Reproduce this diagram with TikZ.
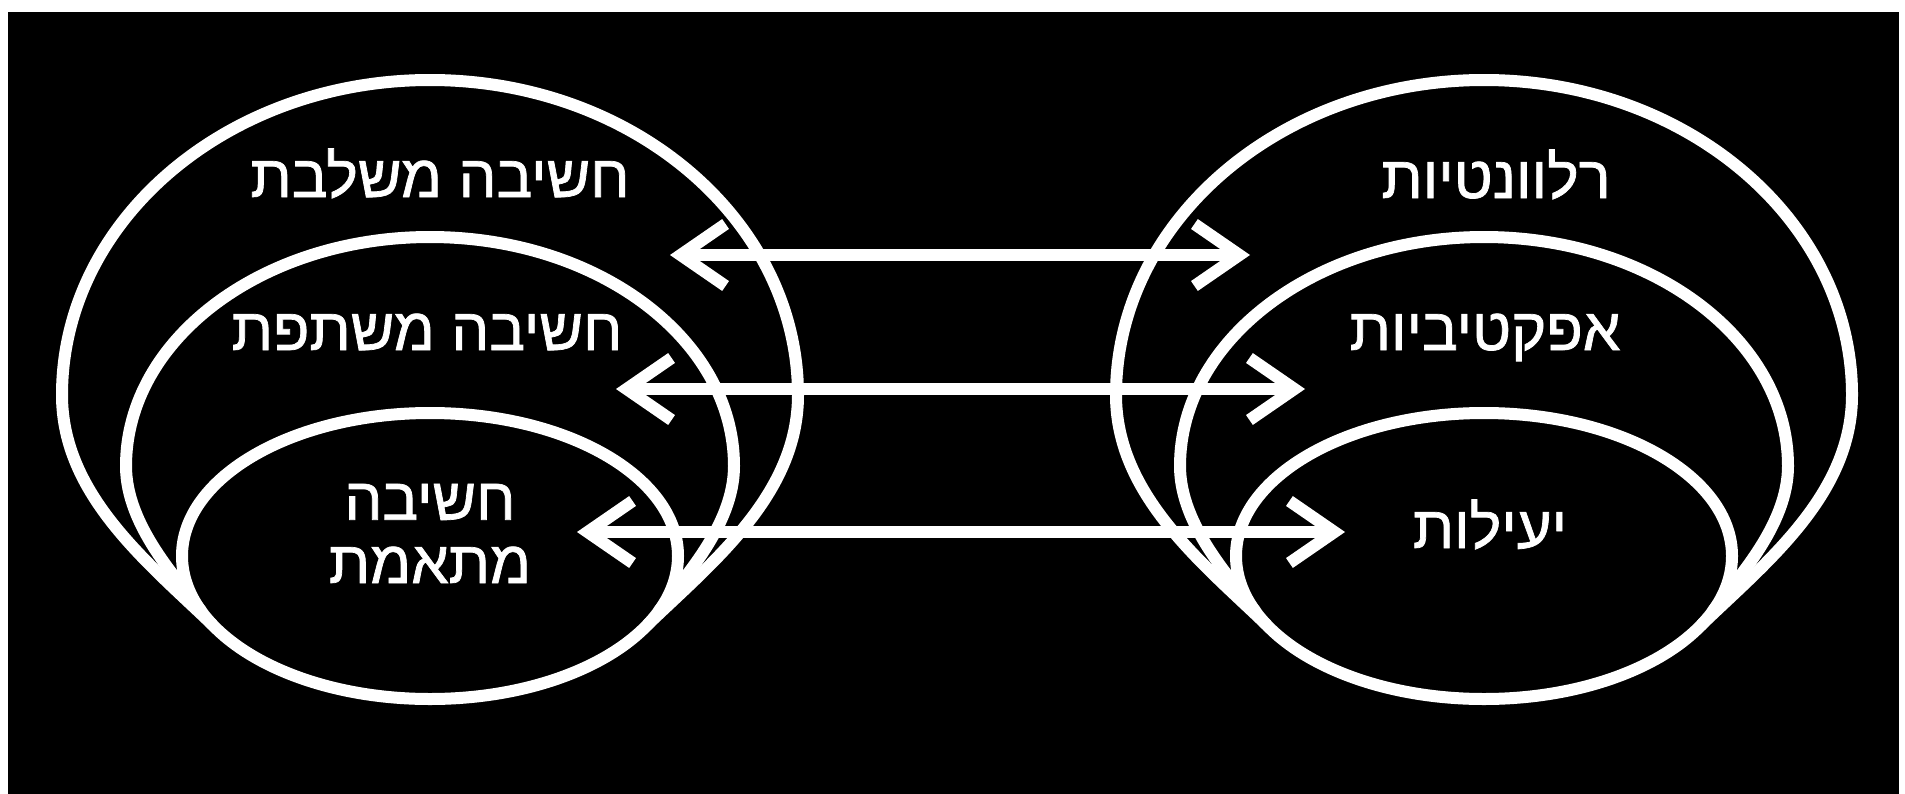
\documentclass[tikz,border=0pt]{standalone}
\usepackage{fontspec}
\newfontfamily\hebfont[Script=Hebrew,FakeBold=1.2]{Liberation Sans}
\TeXXeTstate=1
\usetikzlibrary{arrows.meta}

\begin{document}
\begin{tikzpicture}[x=1cm,y=1cm,
  ring/.style={draw=white,line width=0.12cm},
  link/.style={white,line width=0.12cm,{Straight Barb[length=0.45cm,width=0.62cm]}-{Straight Barb[length=0.45cm,width=0.62cm]}},
  word/.style={text=white,anchor=base,align=center,font=\hebfont\fontsize{17}{18}\selectfont}]
\useasboundingbox (0,0) rectangle (19.05,7.93);
\fill[white] (0,0) rectangle (19.05,7.93);
\fill[black] (0.08,-0.3) rectangle (18.99,7.81);
\foreach \cx/\g in {4.30/L,14.84/R} {
  \begin{scope}[shift={(\cx,2.37)}]
  \draw[ring] (0,0) ellipse [x radius=2.48,y radius=1.43];
  \coordinate (\g ol) at (209:2.48 and 1.43);
  \coordinate (\g or) at (-29:2.48 and 1.43);
  \coordinate (\g ml) at (203:2.48 and 1.43);
  \coordinate (\g mr) at (-23:2.48 and 1.43);
  \draw[ring] (\g ml) .. controls +(126:0.4) and +(-90:0.6) .. (-3.04,0.90)
    arc[start angle=180,end angle=0,x radius=3.04,y radius=2.29]
    .. controls +(-90:0.6) and +(54:0.4) .. (\g mr);
  \draw[ring] (\g ol) .. controls +(136:0.9) and +(-90:1.0) .. (-3.68,1.61)
    arc[start angle=180,end angle=0,x radius=3.68,y radius=3.15]
    .. controls +(-90:1.0) and +(44:0.9) .. (\g or);
  \end{scope}
}
\foreach \i/\y/\xl/\xr in {1/5.38/6.70/12.50,2/4.04/6.16/13.05,3/2.61/5.77/13.45} {
  \coordinate (a\i l) at (\xl,\y);
  \coordinate (a\i r) at (\xr,\y);
  \draw[link] (a\i l) -- (a\i r);
}
\node[word] (mishlevet) at (4.40,5.96) {\beginR חשיבה משלבת\endR};
\node[word] (meshatefet) at (4.27,4.43) {\beginR חשיבה משתפת\endR};
\node[word] (metaemet) at (4.30,2.10) {\beginR חשיבה\endR\\\beginR מתאמת\endR};
\node[word] (relevant) at (14.96,5.95) {\beginR רלוונטיות\endR};
\node[word] (efektivi) at (14.85,4.43) {\beginR אפקטיביות\endR};
\node[word] (yeilut) at (14.90,2.45) {\beginR יעילות\endR};
\end{tikzpicture}
\end{document}
